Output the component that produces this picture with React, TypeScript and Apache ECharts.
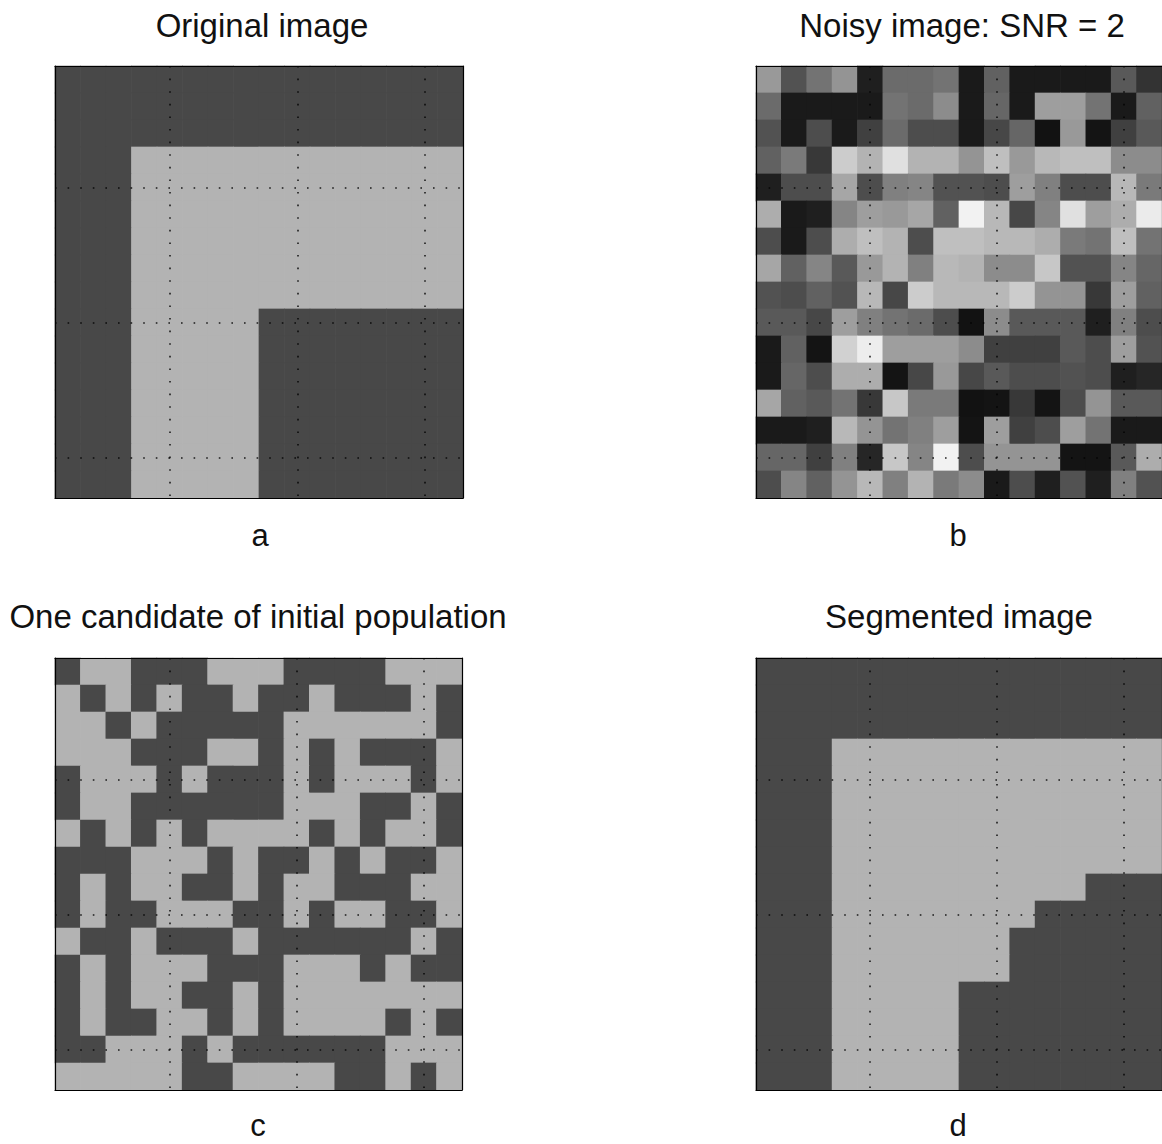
import React, { useEffect, useRef } from "react";
import * as echarts from "echarts";

// ---- Data (16 x 16 images, row 0 at top, col 0 at left) ----
const cellLabels = Array.from({ length: 16 }, (_, i) => String(i + 1));
const gridTicks = [5, 10, 15];
const axisExtent = [0.5, 16.5];

// a: original image (1 = light, 0 = dark)
const originalRows = [
  "0000000000000000",
  "0000000000000000",
  "0000000000000000",
  "0001111111111111",
  "0001111111111111",
  "0001111111111111",
  "0001111111111111",
  "0001111111111111",
  "0001111111111111",
  "0001111100000000",
  "0001111100000000",
  "0001111100000000",
  "0001111100000000",
  "0001111100000000",
  "0001111100000000",
  "0001111100000000",
];

// b: noisy image, grey level 0 (black) .. 1 (white)
const noisyRows = [
  [0.6, 0.32, 0.45, 0.58, 0.12, 0.42, 0.42, 0.45, 0.1, 0.38, 0.1, 0.1, 0.1, 0.1, 0.35, 0.2],
  [0.42, 0.1, 0.1, 0.1, 0.1, 0.45, 0.42, 0.55, 0.1, 0.4, 0.1, 0.62, 0.62, 0.45, 0.1, 0.38],
  [0.32, 0.1, 0.3, 0.1, 0.25, 0.42, 0.3, 0.3, 0.1, 0.28, 0.4, 0.07, 0.6, 0.08, 0.25, 0.35],
  [0.38, 0.48, 0.22, 0.8, 0.7, 0.88, 0.7, 0.7, 0.58, 0.75, 0.6, 0.72, 0.75, 0.75, 0.55, 0.55],
  [0.12, 0.3, 0.3, 0.65, 0.3, 0.5, 0.52, 0.32, 0.32, 0.3, 0.62, 0.5, 0.3, 0.3, 0.72, 0.48],
  [0.68, 0.1, 0.12, 0.52, 0.62, 0.6, 0.65, 0.38, 0.95, 0.72, 0.28, 0.52, 0.88, 0.62, 0.68, 0.92],
  [0.3, 0.1, 0.3, 0.68, 0.75, 0.7, 0.3, 0.75, 0.75, 0.72, 0.72, 0.68, 0.48, 0.45, 0.75, 0.45],
  [0.65, 0.38, 0.52, 0.35, 0.6, 0.7, 0.5, 0.72, 0.7, 0.55, 0.55, 0.78, 0.32, 0.32, 0.52, 0.4],
  [0.32, 0.3, 0.38, 0.32, 0.72, 0.28, 0.8, 0.72, 0.72, 0.72, 0.8, 0.58, 0.58, 0.22, 0.62, 0.38],
  [0.35, 0.35, 0.28, 0.62, 0.5, 0.45, 0.42, 0.3, 0.07, 0.55, 0.35, 0.35, 0.35, 0.12, 0.5, 0.3],
  [0.1, 0.38, 0.08, 0.82, 0.93, 0.62, 0.62, 0.62, 0.55, 0.25, 0.25, 0.25, 0.35, 0.3, 0.62, 0.32],
  [0.1, 0.4, 0.3, 0.68, 0.68, 0.08, 0.28, 0.6, 0.28, 0.35, 0.3, 0.3, 0.32, 0.3, 0.12, 0.15],
  [0.65, 0.38, 0.35, 0.45, 0.22, 0.78, 0.48, 0.48, 0.07, 0.08, 0.22, 0.08, 0.3, 0.58, 0.35, 0.35],
  [0.1, 0.1, 0.12, 0.72, 0.58, 0.45, 0.5, 0.62, 0.08, 0.62, 0.25, 0.3, 0.62, 0.45, 0.1, 0.1],
  [0.4, 0.4, 0.25, 0.5, 0.15, 0.78, 0.52, 0.95, 0.3, 0.58, 0.58, 0.58, 0.08, 0.08, 0.35, 0.68],
  [0.3, 0.52, 0.38, 0.58, 0.72, 0.5, 0.7, 0.48, 0.55, 0.1, 0.3, 0.12, 0.32, 0.12, 0.5, 0.32],
];

// c: one candidate of the initial population
const candidateRows = [
  "0110001110000111",
  "1010100100100010",
  "1101000001111110",
  "1110001101010001",
  "0111010001011101",
  "0110000001110010",
  "1010101111010110",
  "0001110100101001",
  "0101100101100011",
  "0100111001011001",
  "1001000100000010",
  "0101110001110100",
  "0101100101111111",
  "0100110101111010",
  "0011101000000111",
  "1111100111100101",
];

// d: segmented image
const segmentedRows = [
  "0000000000000000",
  "0000000000000000",
  "0000000000000000",
  "0001111111111111",
  "0001111111111111",
  "0001111111111111",
  "0001111111111111",
  "0001111111111111",
  "0001111111111000",
  "0001111111100000",
  "0001111111000000",
  "0001111111000000",
  "0001111100000000",
  "0001111100000000",
  "0001111100000000",
  "0001111100000000",
];

const panelTitles = [
  "Original image",
  "Noisy image: SNR = 2",
  "One candidate of initial population",
  "Segmented image",
];
const panelLabels = ["a", "b", "c", "d"];

// ---- Layout / style ----
const FONT = "'Liberation Sans', Arial, Helvetica, sans-serif";
const DARK = "#484848";
const LIGHT = "#b3b3b3";
const panels = [
  { left: 55, top: 66, width: 408, height: 432, titleX: 262, titleY: 25, labelX: 260, labelY: 535 },
  { left: 756, top: 66, width: 408, height: 432, titleX: 962, titleY: 25, labelX: 958, labelY: 535 },
  { left: 55, top: 658, width: 407, height: 432, titleX: 258, titleY: 616, labelX: 258, labelY: 1125 },
  { left: 756, top: 658, width: 408, height: 432, titleX: 959, titleY: 616, labelX: 958, labelY: 1125 },
];

function binaryToCells(rows: string[]) {
  const out: number[][] = [];
  rows.forEach((row, r) => {
    row.split("").forEach((ch, c) => out.push([c, r, Number(ch)]));
  });
  return out;
}

function gridToCells(rows: number[][]) {
  const out: number[][] = [];
  rows.forEach((row, r) => row.forEach((v, c) => out.push([c, r, v])));
  return out;
}

function gridLineData() {
  const d: any[] = [];
  gridTicks.forEach((t) => {
    d.push({ coords: [[t, axisExtent[0]], [t, axisExtent[1]]] });
    d.push({ coords: [[axisExtent[0], t], [axisExtent[1], t]] });
  });
  return d;
}

// cell renderer: slightly overlapping rectangles avoid hairline seams
function renderCell(_params: any, api: any) {
  const c = api.coord([api.value(0), api.value(1)]);
  const s = api.size([1, 1]);
  return {
    type: "rect",
    shape: {
      x: c[0] - s[0] / 2 - 0.35,
      y: c[1] - s[1] / 2 - 0.35,
      width: s[0] + 0.7,
      height: s[1] + 0.7,
    },
    style: { fill: api.visual("color") },
  };
}

export default function App() {
  const ref = useRef<HTMLDivElement>(null);

  useEffect(() => {
    document.body.style.margin = "0";
    document.body.style.overflow = "hidden";
    if (!ref.current) return;
    const chart = echarts.init(ref.current, undefined, { renderer: "svg" });

    const cellSets = [
      binaryToCells(originalRows),
      gridToCells(noisyRows),
      binaryToCells(candidateRows),
      binaryToCells(segmentedRows),
    ];

    const grids: any[] = [];
    const xAxes: any[] = [];
    const yAxes: any[] = [];
    const series: any[] = [];
    const blackLine = { show: true, onZero: false, lineStyle: { color: "#000", width: 1.2 } };

    // cell grids 0..3
    panels.forEach((p) => {
      grids.push({ left: p.left, top: p.top, width: p.width, height: p.height, containLabel: false });
    });
    // overlay grids 4..7 (value axes for grid lines and frame)
    panels.forEach((p) => {
      grids.push({ left: p.left, top: p.top, width: p.width, height: p.height, containLabel: false });
    });

    panels.forEach((_, i) => {
      xAxes.push({
        type: "category",
        gridIndex: i,
        data: cellLabels,
        position: "top",
        z: 10,
        axisLine: blackLine,
        axisTick: { show: false },
        axisLabel: { show: false },
        splitLine: { show: false },
      });
      yAxes.push({
        type: "category",
        gridIndex: i,
        data: cellLabels,
        inverse: true,
        position: "right",
        z: 10,
        axisLine: blackLine,
        axisTick: { show: false },
        axisLabel: { show: false },
        splitLine: { show: false },
      });
    });
    panels.forEach((_, i) => {
      xAxes.push({
        type: "value",
        gridIndex: 4 + i,
        min: axisExtent[0],
        max: axisExtent[1],
        position: "bottom",
        z: 10,
        axisLine: blackLine,
        axisTick: { show: false },
        axisLabel: { show: false },
        splitLine: { show: false },
      });
      yAxes.push({
        type: "value",
        gridIndex: 4 + i,
        min: axisExtent[0],
        max: axisExtent[1],
        inverse: true,
        position: "left",
        z: 10,
        axisLine: blackLine,
        axisTick: { show: false },
        axisLabel: { show: false },
        splitLine: { show: false },
      });
    });

    cellSets.forEach((cells, i) => {
      series.push({
        type: "custom",
        name: panelTitles[i],
        xAxisIndex: i,
        yAxisIndex: i,
        data: cells,
        silent: true,
        encode: { x: 0, y: 1 },
        renderItem: renderCell,
      });
    });
    panels.forEach((_, i) => {
      series.push({
        type: "lines",
        coordinateSystem: "cartesian2d",
        xAxisIndex: 4 + i,
        yAxisIndex: 4 + i,
        data: gridLineData(),
        silent: true,
        z: 5,
        symbol: "none",
        lineStyle: { color: "#000", width: 1.6, type: [1.6, 11], opacity: 0.85 },
      });
    });

    const graphics: any[] = [];
    panels.forEach((p, i) => {
      graphics.push({
        type: "text",
        x: p.titleX,
        y: p.titleY,
        style: {
          text: panelTitles[i],
          fontSize: 33,
          fontFamily: FONT,
          fill: "#111",
          textAlign: "center",
          textVerticalAlign: "middle",
        },
      });
      graphics.push({
        type: "text",
        x: p.labelX,
        y: p.labelY,
        style: {
          text: panelLabels[i],
          fontSize: 31,
          fontFamily: FONT,
          fill: "#111",
          textAlign: "center",
          textVerticalAlign: "middle",
        },
      });
    });

    chart.setOption({
      animation: false,
      backgroundColor: "#ffffff",
      grid: grids,
      xAxis: xAxes,
      yAxis: yAxes,
      visualMap: [
        {
          type: "piecewise",
          show: false,
          seriesIndex: [0, 2, 3],
          dimension: 2,
          pieces: [
            { value: 0, color: DARK },
            { value: 1, color: LIGHT },
          ],
        },
        {
          type: "continuous",
          show: false,
          seriesIndex: 1,
          dimension: 2,
          min: 0,
          max: 1,
          inRange: { color: ["#000000", "#ffffff"] },
        },
      ],
      series,
      graphic: graphics,
    });

    return () => chart.dispose();
  }, []);

  return <div ref={ref} style={{ width: 1162, height: 1144 }} />;
}
